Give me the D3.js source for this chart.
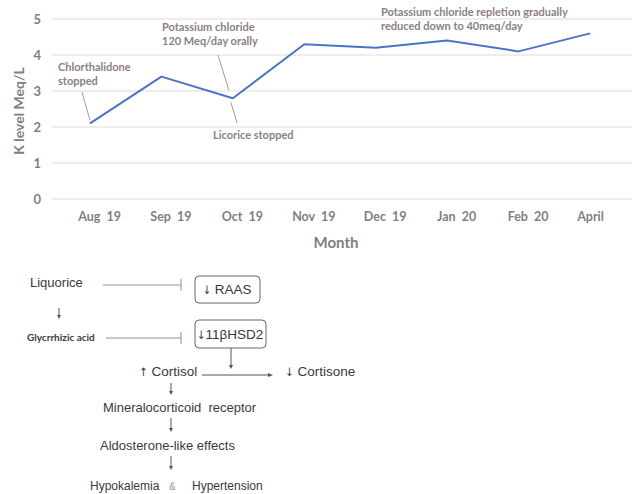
<!DOCTYPE html>
<html><head><meta charset="utf-8">
<script src="https://cdn.jsdelivr.net/npm/d3@7"></script>
<style>body{margin:0;background:#fff}svg{display:block}</style>
</head><body>
<svg id="c" width="638" height="494"></svg>
<script>
const months = ["Aug 19","Sep 19","Oct 19","Nov 19","Dec 19","Jan 20","Feb 20","April"];
const kLevels = [2.1, 3.4, 2.8, 4.3, 4.2, 4.4, 4.1, 4.6];
const yTicks = [0,1,2,3,4,5];
const annotations = [
  {idx:0, lines:["Chlorthalidone","stopped"]},
  {idx:2, lines:["Potassium chloride","120 Meq/day orally"]},
  {idx:2, lines:["Licorice stopped"]},
  {idx:6, lines:["Potassium chloride repletion gradually","reduced down to 40meq/day"]}
];

const svg = d3.select("#c");
const gray = "#7f7f7f";
const annoCol = "#8c7f7f";
const chartFont = "Lato, 'Open Sans', sans-serif";

const x = d3.scalePoint().domain(months).range([90, 590]);
const y = d3.scaleLinear().domain([0,5]).range([199, 19]);

// gridlines
svg.append("g").selectAll("line").data(yTicks).join("line")
  .attr("x1",52).attr("x2",632)
  .attr("y1",d=>y(d)).attr("y2",d=>y(d))
  .attr("stroke","#dcdcdc").attr("stroke-width",1);

// y axis labels
const yAxis = d3.axisLeft(y).tickValues(yTicks).tickFormat(d3.format("d")).tickSize(0).tickPadding(0);
const gy = svg.append("g").attr("transform","translate(41,0)").call(yAxis);
gy.select(".domain").remove();
gy.selectAll("text").attr("fill",gray).attr("font-family",chartFont)
  .attr("font-size",13).attr("font-weight","bold");

// x axis labels
const xAxis = d3.axisBottom(x).tickSize(0).tickPadding(0);
const gx = svg.append("g").attr("transform","translate(0,212)").call(xAxis);
gx.select(".domain").remove();
gx.selectAll("text").attr("fill",gray).attr("font-family",chartFont)
  .attr("font-size",12.5).attr("font-weight","bold")
  .attr("dx", d => /\d$/.test(d) ? 9 : 0)
  .attr("xml:space","preserve")
  .text(d => d.replace(" ","  "));

// axis titles
svg.append("text").attr("transform","translate(24,111) rotate(-90)")
  .attr("text-anchor","middle").attr("fill",gray).attr("font-family",chartFont)
  .attr("font-size",14).attr("font-weight","bold").text("K level Meq/L");
svg.append("text").attr("x",336).attr("y",248)
  .attr("text-anchor","middle").attr("fill",gray).attr("font-family",chartFont)
  .attr("font-size",15).attr("font-weight","bold").text("Month");

// line
const line = d3.line().x((d,i)=>x(months[i])).y(d=>y(d));
svg.append("path").datum(kLevels).attr("d",line)
  .attr("fill","none").attr("stroke","#4a74c9").attr("stroke-width",2)
  .attr("stroke-linejoin","round");

// annotations
const annoPos = [
  {tx:58, ty:71, lx1:82, ly1:92, dx:0, dy:-3},
  {tx:162, ty:31, lx1:218, ly1:55, dx:-4, dy:-8},
  {tx:213, ty:139, lx1:237, ly1:123, dx:-2, dy:4},
  {tx:381, ty:16, lx1:null}
];
annotations.forEach((a,k)=>{
  const p = annoPos[k];
  const t = svg.append("text").attr("x",p.tx).attr("y",p.ty)
    .attr("fill",annoCol).attr("font-family",chartFont)
    .attr("font-size",11).attr("font-weight","bold");
  a.lines.forEach((s,i)=>t.append("tspan").attr("x",p.tx).attr("dy",i?14:0).text(s));
  if (p.lx1!==null) {
    svg.append("line").attr("x1",p.lx1).attr("y1",p.ly1)
      .attr("x2",x(months[a.idx])+p.dx).attr("y2",y(kLevels[a.idx])+p.dy)
      .attr("stroke","#a89b8f").attr("stroke-width",1);
  }
});

// ---------- lower diagram ----------
const dFont = "'Liberation Sans', Arial, sans-serif";
const arrowFont = "'DejaVu Sans Condensed', 'DejaVu Sans', sans-serif";
const dCol = "#3a3a3a";
const lineCol = "#555";
const inhCol = "#a88888";
function txt(xx,yy,s,opt={}){
  const t = svg.append("text").attr("x",xx).attr("y",yy)
    .attr("font-family",opt.font||dFont).attr("font-size",opt.size||13)
    .attr("font-weight",opt.weight||"normal").attr("fill",opt.fill||dCol)
    .attr("text-anchor",opt.anchor||"start").attr("xml:space","preserve");
  if (opt.arrow) {
    t.append("tspan").attr("font-family",arrowFont).attr("font-size",(opt.size||13)-2).text(opt.arrow);
  }
  t.append("tspan").text(s);
  return t;
}
function inhib(x1,x2,yy){
  svg.append("line").attr("x1",x1).attr("x2",x2).attr("y1",yy).attr("y2",yy)
    .attr("stroke",inhCol).attr("stroke-width",1);
  svg.append("line").attr("x1",x2).attr("x2",x2).attr("y1",yy-6).attr("y2",yy+6)
    .attr("stroke",inhCol).attr("stroke-width",1);
}
function down(xx,y1,y2){
  svg.append("line").attr("x1",xx).attr("x2",xx).attr("y1",y1).attr("y2",y2-2)
    .attr("stroke",lineCol).attr("stroke-width",1);
  svg.append("path").attr("d",`M${xx-2},${y2-3}L${xx+2},${y2-3}L${xx},${y2+1}Z`).attr("fill",lineCol);
}
function box(x0,y0,w,h){
  svg.append("rect").attr("x",x0).attr("y",y0).attr("width",w).attr("height",h)
    .attr("rx",4).attr("fill","none").attr("stroke","#666").attr("stroke-width",1);
}

txt(30,287,"Liquorice");
inhib(103,181,285);
box(195,276,65,27);
txt(227,294," RAAS",{anchor:"middle",size:13.5,arrow:"↓"});
down(59,308,318);
txt(27,341,"Glycrrhizic acid",{size:10,weight:"bold",font:chartFont});
inhib(106,181,338);
box(195,320,71,28);
txt(230,339,"11βHSD2",{anchor:"middle",size:13.5,arrow:"↓"});
down(231,348,368);
txt(139,376," Cortisol",{size:13.5,arrow:"↑"});
svg.append("line").attr("x1",202).attr("x2",270).attr("y1",375).attr("y2",375)
  .attr("stroke",lineCol).attr("stroke-width",1);
svg.append("path").attr("d","M268,373L268,377L273,375Z").attr("fill",lineCol);
txt(285,376," Cortisone",{size:13.5,arrow:"↓"});
down(171,383,394);
txt(103,412,"Mineralocorticoid  receptor");
down(171,418,431);
txt(100,450,"Aldosterone-like effects");
down(171,456,469);
txt(90,490,"Hypokalemia",{size:12});
txt(169,490,"&",{size:10,fill:"#999"});
txt(192,490,"Hypertension",{size:12});
</script>
</body></html>
